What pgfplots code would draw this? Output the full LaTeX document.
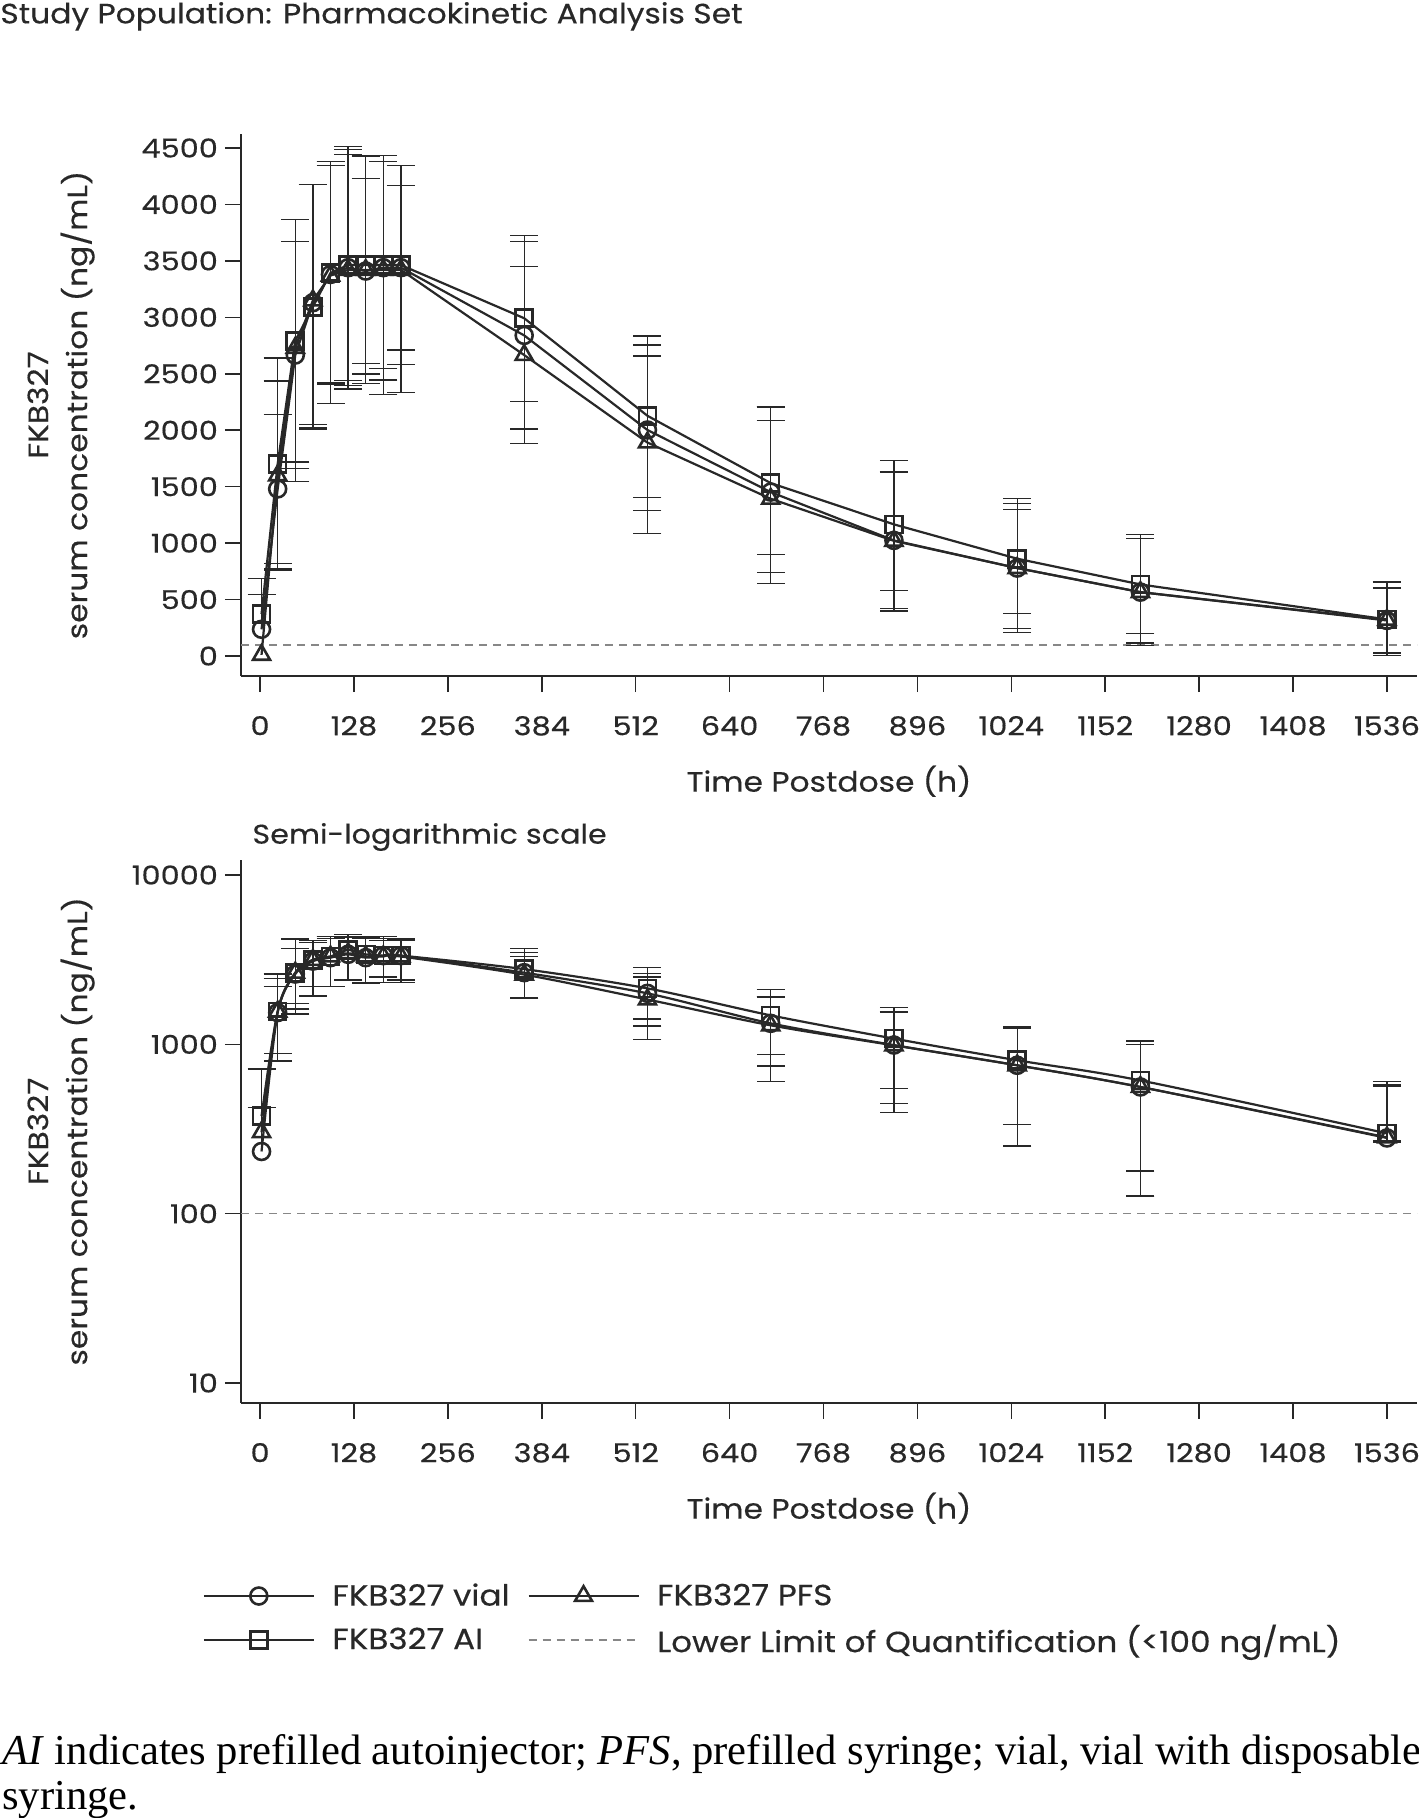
\documentclass[border=0pt]{standalone}
\usepackage{fontspec}
\setmainfont{Poppins}[FakeStretch=1.12, FakeBold=0.35]
\newfontfamily\tickfont{Poppins}[FakeStretch=1.17, FakeBold=0.35]
\newfontfamily\capfont{Liberation Serif}
\usepackage{pgfplots}
\usepackage{pgfplotstable}
\pgfplotsset{compat=1.18}

\definecolor{ink}{RGB}{40,40,40}
\definecolor{llgray}{RGB}{135,135,135}

% ---------- linear-scale data: time, mean, upper, lower ----------
\pgfplotstableread{
t y up lo
2 237 547 237
24 1480 2138 822
48 2666 3669 1663
72 3130 4175 2050
96 3380 4342 2418
120 3440 4515 2365
144 3410 4231 2589
168 3440 4435 2445
192 3440 4168 2712
360 2840 3669 2011
528 2002 2755 1290
696 1452 2084 738
864 1024 1629 419
1032 779 1349 209
1200 566 1039 93
1536 315 602 28
}\linvial
\pgfplotstableread{
t y up lo
2 10 10 10
24 1600 2435 775
48 2730 3868 1543
72 3150 4175 2020
96 3370 4380 2239
120 3420 4443 2397
144 3420 4427 2413
168 3420 4380 2318
192 3420 4342 2334
360 2666 3450 1882
528 1891 2657 1085
696 1393 2205 640
864 1020 1629 398
1032 779 1299 242
1200 566 1039 115
1536 320 655 6
}\linpfs
\pgfplotstableread{
t y up lo
2 373 689 373
24 1701 2641 761
48 2793 3868 1718
72 3093 4175 2011
96 3393 4380 2406
120 3463 4485 2441
144 3463 4428 2498
168 3463 4380 2546
192 3463 4342 2584
360 2992 3725 2255
528 2128 2834 1407
696 1532 2205 897
864 1166 1730 578
1032 862 1393 378
1200 634 1077 197
1536 324 655 20
}\linai

% ---------- semi-log data ----------
\pgfplotstableread{
t y up lo
2 233 425 233
24 1540 2200 880
48 2600 3670 1740
72 3100 4000 1930
96 3250 4200 2190
120 3400 4300 2400
144 3250 4200 2300
168 3340 4200 2500
192 3340 4100 2400
360 2650 3480 1880
528 2000 2630 1285
696 1330 1919 745
864 990 1552 447
1032 752 1277 251
1200 560 1046 127
1536 280 567 265
}\logvial
\pgfplotstableread{
t y up lo
2 303 303 303
24 1560 2450 800
48 2650 4180 1510
72 3150 4100 2200
96 3300 4340 2190
120 3450 4460 2380
144 3300 4250 2300
168 3300 4100 2320
192 3300 4180 2320
360 2580 3300 1880
528 1840 2500 1070
696 1295 1900 603
864 986 1552 395
1032 752 1250 251
1200 560 1000 127
1536 282 580 270
}\logpfs
\pgfplotstableread{
t y up lo
2 377 716 377
24 1567 2600 795
48 2642 4180 1620
72 3160 4100 2200
96 3300 4340 2190
120 3610 4460 2380
144 3400 4300 2300
168 3340 4340 2320
192 3340 4180 2320
360 2780 3670 1880
528 2140 2830 1410
696 1483 2104 869
864 1081 1648 547
1032 805 1277 337
1200 612 1046 179
1536 298 603 271
}\logai

\pgfplotsset{
  pkaxis/.style={
    scale only axis, width=588pt,
    axis x line*=bottom, axis y line*=left,
    axis line style={ink, line width=0.8pt, -},
    tick style={ink, line width=0.8pt},
    tick align=outside, major tick length=8pt,
    xmin=-26, xmax=1577,
    xtick={0,128,...,1536},
    tick label style={font=\tickfont\fontsize{13}{15}\selectfont, text=ink},
    xticklabel style={yshift=-8.5pt},
    /pgf/number format/assume math mode=true,
    /pgf/number format/set thousands separator={},
    xlabel={Time Postdose (h)},
    xlabel style={font=\fontsize{14}{16}\selectfont, text=ink, yshift=-8pt},
    ylabel={FKB327\\serum concentration (ng/mL)},
    ylabel style={font=\fontsize{14}{19.5}\selectfont, text=ink, align=center,
      at={(axis description cs:-0.153,0.5)}, anchor=center},
    clip=false,
  },
  errp/.style={no markers, draw=none, forget plot,
    error bars/.cd, y dir=plus, y explicit,
    error bar style={draw=ink, solid, line width=0.65pt},
    error mark options={rotate=90, draw=ink, solid, line width=0.65pt, mark size=7pt}},
  errm/.style={no markers, draw=none, forget plot,
    error bars/.cd, y dir=minus, y explicit,
    error bar style={draw=ink, solid, line width=0.65pt},
    error mark options={rotate=90, draw=ink, solid, line width=0.65pt, mark size=7pt}},
  ser/.style={ink, line width=1.1pt, forget plot,
    mark options={solid, line width=1.3pt, fill=none}},
}

\begin{document}
\begin{tikzpicture}
\useasboundingbox (0,0) rectangle (709pt,-909pt);

\node[anchor=base west, inner sep=0pt, font=\fontsize{14}{16}\selectfont, text=ink]
  at (0pt,-11.7pt) {Study Population: Pharmacokinetic Analysis Set};

% ================= linear axis =================
\begin{axis}[pkaxis, height=271pt, at={(120.5pt,-338pt)}, anchor=south west,
  ymin=-177, ymax=4624, ytick={0,500,...,4500}]
  \addplot[llgray, line width=0.8pt, dash pattern=on 4pt off 3pt, forget plot]
    coordinates {(-26,100) (1577,100)};
  % error bars
  \addplot[errp] table[x=t, y=y, y error plus expr=\thisrow{up}-\thisrow{y}] {\linvial};
  \addplot[skip coords between index={0}{1}, errm] table[x=t, y=y, y error minus expr=\thisrow{y}-\thisrow{lo}] {\linvial};
  \addplot[skip coords between index={0}{1}, errp] table[x=t, y=y, y error plus expr=\thisrow{up}-\thisrow{y}] {\linpfs};
  \addplot[skip coords between index={0}{1}, errm] table[x=t, y=y, y error minus expr=\thisrow{y}-\thisrow{lo}] {\linpfs};
  \addplot[errp] table[x=t, y=y, y error plus expr=\thisrow{up}-\thisrow{y}] {\linai};
  \addplot[skip coords between index={0}{1}, errm] table[x=t, y=y, y error minus expr=\thisrow{y}-\thisrow{lo}] {\linai};
  % series
  \addplot[ser, mark=o, mark size=4.25pt] table[x=t, y=y] {\linvial};
  \addplot[ser, mark=triangle, mark size=4.9pt] table[x=t, y=y] {\linpfs};
  \addplot[ser, mark=square, mark size=4.25pt] table[x=t, y=y] {\linai};
\end{axis}

% ================= semi-log axis =================
\begin{axis}[pkaxis, height=271.7pt, at={(120.5pt,-701.5pt)}, anchor=south west,
  ymode=log, ymin=7.62, ymax=12326, ytick={10,100,1000,10000},
  yticklabels={10,100,1000,10000}, yminorticks=false,
  legend columns=2,
  legend cell align=left,
  legend style={at={(axis description cs:-0.038,-0.3165)}, anchor=north west,
    draw=none, fill=none, font=\fontsize{14.6}{17}\selectfont, text=ink,
    /tikz/every odd column/.append style={column sep=6.7pt},
    /tikz/every even column/.append style={column sep=6.9pt}, row sep=4pt},
  legend image code/.code={\draw[mark repeat=2, mark phase=2, #1]
    plot coordinates {(0pt,0pt) (27.5pt,0pt) (55pt,0pt)};},
  ]
  \addlegendimage{ink, line width=1.1pt, mark=o, mark size=4.25pt, mark options={solid, line width=1.3pt}}
  \addlegendentry{FKB327 vial}
  \addlegendimage{ink, line width=1.1pt, mark=triangle, mark size=4.9pt, mark options={solid, line width=1.3pt}}
  \addlegendentry{FKB327 PFS}
  \addlegendimage{ink, line width=1.1pt, mark=square, mark size=4.25pt, mark options={solid, line width=1.3pt}}
  \addlegendentry{FKB327 AI}
  \addlegendimage{llgray, line width=0.8pt, dash pattern=on 4pt off 3pt}
  \addlegendentry{Lower Limit of Quantification (<100 ng/mL)}

  \addplot[llgray, line width=0.8pt, dash pattern=on 4pt off 3pt, forget plot]
    coordinates {(-26,100) (1577,100)};
  \addplot[errp] table[x=t, y=y, y error plus expr=\thisrow{up}-\thisrow{y}] {\logvial};
  \addplot[skip coords between index={0}{1}, errm] table[x=t, y=y, y error minus expr=\thisrow{y}-\thisrow{lo}] {\logvial};
  \addplot[skip coords between index={0}{1}, errp] table[x=t, y=y, y error plus expr=\thisrow{up}-\thisrow{y}] {\logpfs};
  \addplot[skip coords between index={0}{1}, errm] table[x=t, y=y, y error minus expr=\thisrow{y}-\thisrow{lo}] {\logpfs};
  \addplot[errp] table[x=t, y=y, y error plus expr=\thisrow{up}-\thisrow{y}] {\logai};
  \addplot[skip coords between index={0}{1}, errm] table[x=t, y=y, y error minus expr=\thisrow{y}-\thisrow{lo}] {\logai};
  \addplot[ser, smooth, mark=o, mark size=4.25pt] table[x=t, y=y] {\logvial};
  \addplot[ser, smooth, mark=triangle, mark size=4.9pt] table[x=t, y=y] {\logpfs};
  \addplot[ser, smooth, mark=square, mark size=4.25pt] table[x=t, y=y] {\logai};

  \node[anchor=west, inner sep=0pt, font=\fontsize{13.5}{16}\selectfont, text=ink]
    at (rel axis cs:0.0094,1.0416) {Semi-logarithmic scale};
\end{axis}

\node[anchor=base west, inner sep=0pt, font=\capfont\fontsize{21.3}{24}\selectfont]
  at (1pt,-882pt) {\textit{AI} indicates prefilled autoinjector; \textit{PFS}, prefilled syringe; vial, vial with disposable};
\node[anchor=base west, inner sep=0pt, font=\capfont\fontsize{21.3}{24}\selectfont]
  at (1pt,-904.5pt) {syringe.};
\end{tikzpicture}
\end{document}
